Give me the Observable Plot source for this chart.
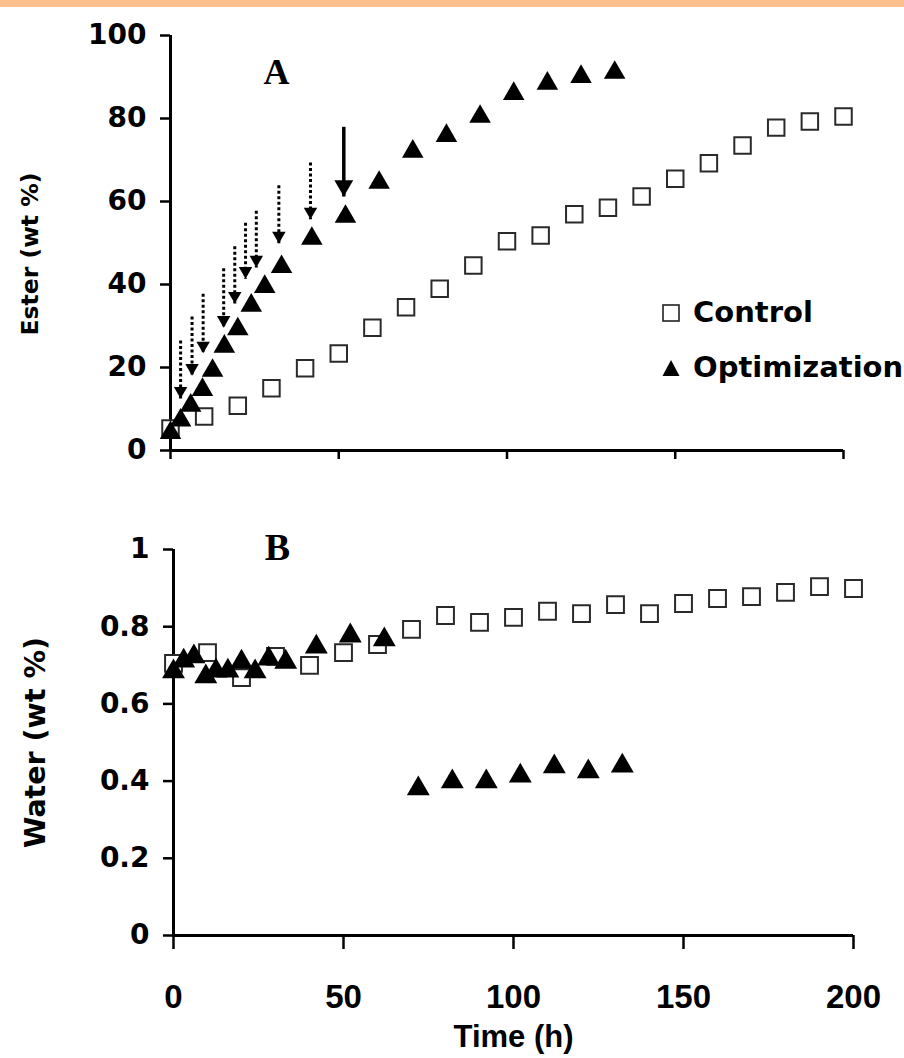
<!DOCTYPE html>
<html><head><meta charset="utf-8">
<script src="https://cdn.jsdelivr.net/npm/d3@7"></script>
<script src="https://cdn.jsdelivr.net/npm/@observablehq/plot@0.6"></script>
<style>
body{margin:0;background:#fff;}
#wrap{position:relative;width:904px;height:1058px;overflow:hidden;background:#fff;}
#bar{position:absolute;left:0;top:0;width:904px;height:7px;background:#fbc08e;}
#pa{position:absolute;left:0;top:0;}
#pb{position:absolute;left:0;top:480px;}
#legend{position:absolute;left:662px;top:285px;font-family:"DejaVu Sans";font-weight:bold;font-size:29px;color:#000;white-space:nowrap;line-height:55px;}
#legend .row{display:flex;align-items:center;height:55px;}
#legend svg{margin-right:13px;flex:none;}
</style></head><body>
<div id="wrap">
<div id="pa"></div>
<div id="pb"></div>
<div id="bar"></div>
<div id="legend">
  <div class="row"><svg width="18" height="18"><rect x="1" y="1" width="16" height="16" fill="white" stroke="#222" stroke-width="1.6"/></svg><span>Control</span></div>
  <div class="row"><svg width="18" height="18"><path d="M9,1 L17.5,17 L0.5,17 Z" fill="black"/></svg><span>Optimization</span></div>
</div>
</div>
<script>
// ---- data ----
const xTicks = [0, 50, 100, 150, 200];
const yTicksA = [0, 20, 40, 60, 80, 100];
const yTicksB = [0, 0.2, 0.4, 0.6, 0.8, 1];
const yTickLabelsB = ["0", "0.2", "0.4", "0.6", "0.8", "1"];

const ctrlTime = [0, 10, 20, 30, 40, 50, 60, 70, 80, 90, 100, 110, 120, 130, 140, 150, 160, 170, 180, 190, 200];
const esterCtrl = [5.3, 8.2, 10.8, 15, 19.8, 23.4, 29.6, 34.5, 39, 44.6, 50.4, 51.8, 56.9, 58.5, 61.2, 65.5, 69.2, 73.5, 77.8, 79.3, 80.5];
const waterCtrl = [0.705, 0.733, 0.668, 0.723, 0.70, 0.733, 0.754, 0.793, 0.829, 0.811, 0.824, 0.84, 0.834, 0.857, 0.834, 0.86, 0.873, 0.878, 0.889, 0.904, 0.899];

const optTime = [0, 3, 6, 9.5, 12.5, 16, 20, 24, 28, 33, 42, 52, 62, 72, 82, 92, 102, 112, 122, 132];
const esterOpt = [5, 8, 11.6, 15.4, 20, 25.8, 30, 35.7, 40.2, 45, 51.8, 57.1, 65.3, 72.8, 76.6, 81.2, 86.7, 89.2, 90.8, 91.8];
const waterOpt = [0.692, 0.72, 0.731, 0.679, 0.694, 0.694, 0.717, 0.692, 0.725, 0.717, 0.756, 0.785, 0.775, 0.389, 0.407, 0.407, 0.422, 0.446, 0.433, 0.448];

// substrate additions (dotted arrows) and final addition (solid arrow)
const addTime = [3, 6.4, 9.7, 15.8, 19.1, 22.3, 25.5, 32.2, 41.6];
const addTop = [26.5, 32.3, 37.8, 43.9, 49.2, 54.9, 57.8, 63.9, 69.4];
const addTip = [12.5, 18, 23.4, 29.6, 35.4, 41.4, 44.1, 49.9, 55.7];
const lastTime = [51.5];
const lastTop = [78];
const lastTip = [61.2];

// ---- tables ----
const ctrlA = ctrlTime.map((t, i) => ({t, v: esterCtrl[i]}));
const optA = optTime.map((t, i) => ({t, v: esterOpt[i]}));
const ctrlB = ctrlTime.map((t, i) => ({t, v: waterCtrl[i]}));
const optB = optTime.map((t, i) => ({t, v: waterOpt[i]}));
const adds = addTime.map((t, i) => ({t, top: addTop[i], tip: addTip[i]}));
const lasts = lastTime.map((t, i) => ({t, top: lastTop[i], tip: lastTip[i]}));

const sans = "DejaVu Sans";
const arial = "Liberation Sans";
const serif = "Liberation Serif";
const centered = {textAnchor: "middle", lineAnchor: "middle"};

const plotA = Plot.plot({
  width: 904, height: 480,
  marginLeft: 170, marginRight: 61, marginTop: 35, marginBottom: 30,
  style: {background: "white", color: "black", fontFamily: sans, overflow: "visible"},
  x: {domain: [0, 200], label: null},
  y: {domain: [0, 100], label: null},
  marks: [
    Plot.axisY({ticks: yTicksA, tickSize: 10, tickPadding: 14, fontSize: 28, fontWeight: "bold", fontFamily: sans, strokeWidth: 2.5, label: null}),
    Plot.axisX({ticks: xTicks, tickSize: 9, tickFormat: () => "", strokeWidth: 2.5, label: null}),
    Plot.ruleX([0], {strokeWidth: 3}),
    Plot.ruleY([0], {strokeWidth: 3}),
    Plot.link(adds, {x1: "t", x2: "t", y1: "top", y2: "tip", strokeWidth: 3, strokeDasharray: "3,2.5"}),
    Plot.dot(adds, {x: "t", y: "tip", symbol: "triangle", r: 5, fill: "black", rotate: 180, dy: -7.8}),
    Plot.link(lasts, {x1: "t", x2: "t", y1: "top", y2: "tip", strokeWidth: 3.5}),
    Plot.dot(lasts, {x: "t", y: "tip", symbol: "triangle", r: 7, fill: "black", rotate: 180, dy: -10.9}),
    Plot.dot(ctrlA, {x: "t", y: "v", symbol: "square", r: 9.3, fill: "white", stroke: "#2a2a2a", strokeWidth: 2}),
    Plot.dot(optA, {x: "t", y: "v", symbol: "triangle", r: 8, fill: "black", dy: 3.1}),
    Plot.text(["A"], {frameAnchor: "top-left", dx: 106, dy: 37, ...centered, fontFamily: serif, fontWeight: "bold", fontSize: 36}),
    Plot.text(["Ester (wt %)"], {frameAnchor: "left", dx: -140, dy: 11, rotate: -90, ...centered, fontSize: 23.5, fontWeight: "bold", fontFamily: sans})
  ]
});
document.getElementById("pa").appendChild(plotA);

const plotB = Plot.plot({
  width: 904, height: 578,
  marginLeft: 173, marginRight: 51, marginTop: 69, marginBottom: 123,
  style: {background: "white", color: "black", fontFamily: sans, overflow: "visible"},
  x: {domain: [0, 200], label: null},
  y: {domain: [0, 1], label: null},
  marks: [
    Plot.axisY({ticks: yTicksB, tickFormat: d => yTickLabelsB[yTicksB.indexOf(d)], tickSize: 10, tickPadding: 14, fontSize: 28, fontWeight: "bold", fontFamily: sans, strokeWidth: 2.5, label: null}),
    Plot.axisX({ticks: xTicks, tickSize: 14, tickPadding: 35, fontSize: 33, fontWeight: "bold", fontFamily: arial, strokeWidth: 2.5, label: null}),
    Plot.ruleX([0], {strokeWidth: 3}),
    Plot.ruleY([0], {strokeWidth: 3}),
    Plot.dot(ctrlB, {x: "t", y: "v", symbol: "square", r: 9.5, fill: "white", stroke: "#2a2a2a", strokeWidth: 2}),
    Plot.dot(optB, {x: "t", y: "v", symbol: "triangle", r: 8.5, fill: "black", dy: 3.3}),
    Plot.text(["B"], {frameAnchor: "top-left", dx: 104, dy: -2, ...centered, fontFamily: serif, fontWeight: "bold", fontSize: 38}),
    Plot.text(["Water (wt %)"], {frameAnchor: "left", dx: -138, rotate: -90, ...centered, fontSize: 28.5, fontWeight: "bold", fontFamily: sans}),
    Plot.text(["Time (h)"], {frameAnchor: "bottom", dy: 102, ...centered, fontSize: 31, fontWeight: "bold", fontFamily: arial})
  ]
});
document.getElementById("pb").appendChild(plotB);
</script>
</body></html>
